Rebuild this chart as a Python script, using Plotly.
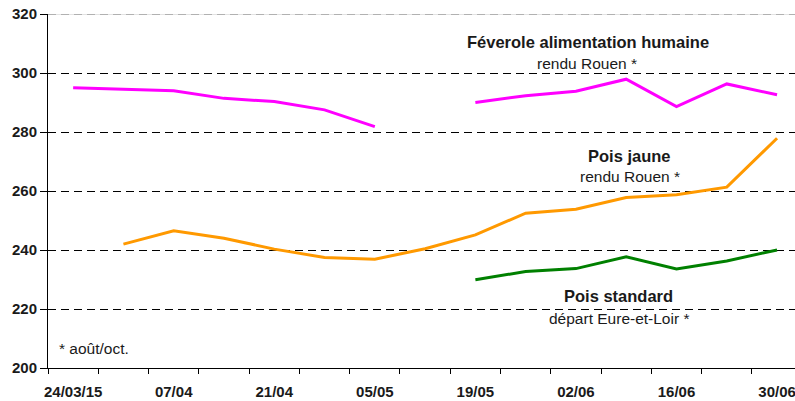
import plotly.graph_objects as go

weeks = ["24/03/15", "31/03", "07/04", "14/04", "21/04", "28/04", "05/05", "12/05",
         "19/05", "26/05", "02/06", "09/06", "16/06", "23/06", "30/06"]
feverole = [295.0, 294.5, 294.0, 291.4, 290.3, 287.5, 281.8, None,
            290.0, 292.3, 293.8, 297.9, 288.6, 296.3, 292.6]
pois_jaune = [None, 242.0, 246.5, 244.0, 240.3, 237.5, 236.9, 240.4,
              245.1, 252.5, 253.8, 257.8, 258.7, 261.3, 277.9]
pois_standard = [None, None, None, None, None, None, None, None,
                 229.9, 232.7, 233.7, 237.7, 233.6, 236.3, 240.0]
tick_labels = ["24/03/15", "07/04", "21/04", "05/05", "19/05", "02/06", "16/06", "30/06"]
y_ticks = [200, 220, 240, 260, 280, 300, 320]

xs = list(range(len(weeks)))
FONT = "Liberation Sans, Arial, sans-serif"

fig = go.Figure()
for vals, col in [(feverole, "#FF00FF"), (pois_jaune, "#FF9900"), (pois_standard, "#008000")]:
    fig.add_trace(go.Scatter(x=xs, y=vals, mode="lines", connectgaps=False,
                             line=dict(color=col, width=3), hoverinfo="skip", showlegend=False))

fig.update_layout(
    width=795, height=401,
    margin=dict(l=48, r=0, t=14, b=33, autoexpand=False),
    paper_bgcolor="white", plot_bgcolor="white",
    font=dict(family=FONT, color="#1a1a1a"),
    xaxis=dict(
        range=[-0.5, 14.357], tickmode="array",
        tickvals=[xs[i] for i in range(0, len(weeks), 2)], ticktext=tick_labels,
        ticks="outside", ticklen=10, tickcolor="rgba(0,0,0,0)", automargin=False,
        ticklabeloverflow="allow",
        tickfont=dict(size=15, weight="bold", color="#1a1a1a", family=FONT),
        showgrid=False, zeroline=False, showline=True, linecolor="black", linewidth=1,
        minor=dict(tickmode="linear", tick0=-0.5, dtick=1, ticks="outside", ticklen=5,
                   tickcolor="black", tickwidth=1, showgrid=False),
    ),
    yaxis=dict(
        range=[200, 320], tickmode="array", tickvals=y_ticks, automargin=False,
        ticks="outside", ticklen=7, tickcolor="black", tickwidth=1,
        tickfont=dict(size=15, weight="bold", color="#1a1a1a", family=FONT),
        showgrid=True, gridcolor="black", gridwidth=1, griddash="8px,5px",
        zeroline=False, showline=True, linecolor="black", linewidth=1,
    ),
)

# top border line (gray dashed over light gray)
fig.add_shape(type="line", xref="paper", yref="y", x0=0, x1=1, y0=320, y1=320,
              line=dict(color="#c8c8c8", width=1))
fig.add_shape(type="line", xref="paper", yref="y", x0=0, x1=1, y0=320, y1=320,
              line=dict(color="#808080", width=1, dash="8px,5px"))

def ann(x, y, text, bold=False, size=15.5, anchor="center"):
    fig.add_annotation(x=x, y=y, xref="x", yref="y", text=text, showarrow=False,
                       xanchor=anchor, yanchor="middle",
                       font=dict(family=FONT, size=size, color="#1a1a1a",
                                 weight="bold" if bold else "normal"))

ann(10.23, 310.5, "Féverole alimentation humaine", bold=True, size=16.5)
ann(10.22, 303.2, "rendu Rouen *")
ann(11.07, 271.9, "Pois jaune", bold=True, size=16.5)
ann(11.07, 264.8, "rendu Rouen *")
ann(10.84, 224.5, "Pois standard", bold=True, size=16.5)
ann(10.86, 216.7, "départ Eure-et-Loir *")
ann(-0.315, 206.5, "* août/oct.", anchor="left")

fig.write_html("out.html", config={"displayModeBar": False},
               post_script="document.body.style.margin='0';document.body.style.overflow='hidden';")
